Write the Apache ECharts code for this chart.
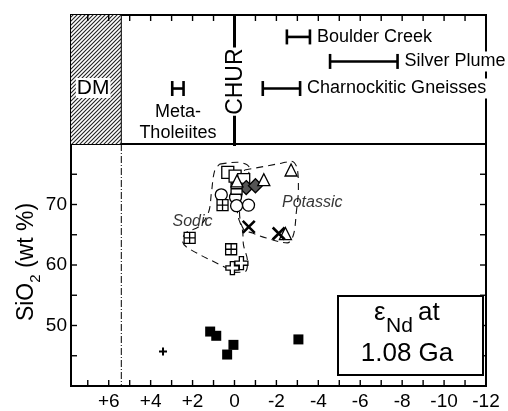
<!DOCTYPE html>
<html><head><meta charset="utf-8">
<script src="https://cdn.jsdelivr.net/npm/echarts@6/dist/echarts.min.js"></script>
<style>html,body{margin:0;padding:0;background:#fff}#c{width:508px;height:411px}</style>
</head><body><div id="c"></div>
<script>
// ---------------- data ----------------
const xTickLabels = [-12, -10, -8, -6, -4, -2, 0, 2, 4, 6];
const yTickLabels = [50, 60, 70];
const xTickMarks = [-12, -11, -10, -9, -8, -7, -6, -5, -4, -3, -2, -1, 0, 1, 2, 3, 4, 5, 6, 7];
const yTickMarks = [45, 50, 55, 60, 65, 70, 75];
const xMin = -12, xMax = 7.8;
const yMin = 40, yMax = 80;
const churEps = 0;          // CHUR reference
const dmEps = 5.4;          // depleted mantle limit

// top panel: eNd ranges
const rangeNames = ['Boulder Creek', 'Silver Plume', 'Charnockitic Gneisses', 'Meta-\nTholeiites'];
const rangeFrom  = [-2.5, -4.56, -1.35, 2.97];
const rangeTo    = [-3.6, -7.78, -3.13, 2.43];
const rangeRow   = [1.02, 2.16, 3.42, 3.42];
const rangeLabelBelow = [false, false, false, true];

// lower panel: samples [eNd, SiO2]
const filledSquares  = [[1.16, 49.0], [0.87, 48.3], [0.05, 46.8], [0.35, 45.2], [-3.05, 47.7]];
const smallPlus      = [[3.41, 45.7]];
const openSquares    = [[0.32, 75.3], [-0.03, 74.7], [-0.44, 74.1]];
const openTriangles  = [[-0.12, 73.9], [-1.4, 74.1], [-2.7, 75.7], [-2.43, 65.2]];
const hatchDiamonds  = [[-0.56, 72.8], [-1.0, 73.1]];
const lineSquares    = [[-0.1, 72.6]];
const openCircles    = [[0.63, 71.6], [-0.05, 71.2], [-0.1, 69.8], [-0.67, 69.9]];
const crossSquares   = [[0.57, 69.9], [2.14, 64.5], [0.16, 62.6]];
const crosses        = [[-0.68, 66.3], [-2.11, 65.2]];
const openPluses     = [[0.1, 59.5], [-0.33, 60.3]];

// field outlines
const sodicHull = [[0.71, 76.67], [-0.14, 76.99], [-0.71, 76.02], [-0.43, 72.28], [-0.14, 68.7], [-0.38, 65.77],
  [-0.43, 63.33], [-0.62, 60.57], [-0.52, 58.94], [-0.05, 58.78], [0.43, 59.59], [2.24, 62.85], [2.48, 63.98],
  [2.33, 65.28], [1.67, 66.42], [1.24, 68.7], [1.1, 71.95], [0.95, 75.53], [0.71, 76.67]];
const potassicHull = [[-0.48, 75.69], [-2.24, 76.83], [-2.71, 77.15], [-3.0, 75.85], [-3.05, 72.6], [-2.95, 68.7],
  [-2.81, 64.96], [-2.52, 63.66], [-1.52, 64.47], [-0.86, 65.28], [-0.43, 65.93], [-0.24, 68.7], [-0.29, 72.28],
  [-0.48, 75.69]];
const groupNames = ['Sodic', 'Potassic'];
const groupX = [2.0, -3.71];
const groupY = [67.2, 70.3];

// ---------------- chart ----------------
const FONT = 'Liberation Sans, Arial, Helvetica, sans-serif';
const chart = echarts.init(document.getElementById('c'), null, {renderer: 'canvas'});

function hatchCanvas() {
  const c = document.createElement('canvas');
  c.width = 4; c.height = 4;
  const g = c.getContext('2d');
  g.fillStyle = '#fff'; g.fillRect(0, 0, 4, 4);
  g.strokeStyle = '#222'; g.lineWidth = 1.1;
  g.beginPath();
  g.moveTo(0, 4); g.lineTo(4, 0);
  g.moveTo(-1, 1); g.lineTo(1, -1);
  g.moveTo(3, 5); g.lineTo(5, 3);
  g.stroke();
  return c;
}
const hatch = hatchCanvas();

const blk = '#000';
const sym = {
  crossSquare: 'path://M0,0L10,0L10,10L0,10Z M5,0L5,10 M0,5L10,5',
  lineSquare: 'path://M0,0L10,0L10,10L0,10Z M0,5L10,5',
  plusOutline: 'path://M3.4,0L6.6,0L6.6,3.4L10,3.4L10,6.6L6.6,6.6L6.6,10L3.4,10L3.4,6.6L0,6.6L0,3.4L3.4,3.4Z',
  cross: 'path://M0,0L10,10M10,0L0,10',
  plus: 'path://M5,0L5,10M0,5L10,5'
};
function sc(name, data, symbol, size, fill, bw) {
  return {
    type: 'scatter', name, xAxisIndex: 1, yAxisIndex: 1, data, symbol, symbolSize: size,
    itemStyle: {color: fill, borderColor: blk, borderWidth: bw, opacity: 1},
    silent: true, z: 5
  };
}
const axLine = {show: true, onZero: false, lineStyle: {color: blk, width: 2}};
const noTick = {show: false};

const rangeData = rangeNames.map((n, i) => [rangeFrom[i], rangeTo[i], rangeRow[i], i]);

// tick marks: one data item per tick, drawn from the axis scale
// dir: [dx, dy] unit direction pointing into the plot
function tickSeries(xi, yi, data, dir) {
  return {type: 'custom', xAxisIndex: xi, yAxisIndex: yi, data, silent: true, z: 8,
    renderItem: (params, api) => {
      const p = api.coord([api.value(0), api.value(1)]);
      return {type: 'line', shape: {x1: p[0], y1: p[1], x2: p[0] + dir[0] * 6, y2: p[1] + dir[1] * 6},
        style: {stroke: '#000', lineWidth: 1.4}};
    }};
}

const option = {
  animation: false,
  backgroundColor: '#fff',
  grid: [
    {left: 71, right: 22, top: 15, height: 129, show: true, borderColor: blk, borderWidth: 2, backgroundColor: 'transparent'},
    {left: 71, right: 22, top: 144, bottom: 24, show: true, borderColor: blk, borderWidth: 2, backgroundColor: 'transparent'}
  ],
  xAxis: [
    {gridIndex: 0, type: 'value', min: xMin, max: xMax, inverse: true, position: 'top', interval: 1,
      axisLine: axLine, axisTick: noTick,
      axisLabel: {show: false}, splitLine: {show: false}},
    {gridIndex: 1, type: 'value', min: xMin, max: xMax, inverse: true, position: 'bottom', interval: 1,
      axisLine: axLine, axisTick: noTick,
      axisLabel: {interval: 0, color: blk, fontSize: 19, fontFamily: FONT, margin: 6,
        formatter: v => xTickLabels.includes(v) ? (v > 0 ? '+' + v : String(v)) : ''},
      splitLine: {show: false}}
  ],
  yAxis: [
    {gridIndex: 0, type: 'value', min: 0, max: 6, inverse: true, show: false},
    {gridIndex: 1, type: 'value', min: yMin, max: yMax, interval: 5, position: 'left',
      axisLine: axLine, axisTick: noTick,
      axisLabel: {interval: 0, color: blk, fontSize: 19, fontFamily: FONT, margin: 4,
        formatter: v => yTickLabels.includes(v) ? String(v) : ''},
      splitLine: {show: false}},
    {gridIndex: 1, type: 'value', min: yMin, max: yMax, interval: 5, position: 'right',
      axisLine: axLine, axisTick: noTick,
      axisLabel: {show: false}, splitLine: {show: false}}
  ],
  series: [
    // DM hatched field (top panel)
    {type: 'custom', xAxisIndex: 0, yAxisIndex: 0, data: [[dmEps, 3]], silent: true, z: 1,
      renderItem: (params, api) => {
        const a = api.coord([xMax, 0]), b = api.coord([api.value(0), 6]);
        const mid = api.coord([(xMax + api.value(0)) / 2, 3.4]);
        return {type: 'group', children: [
          {type: 'rect', shape: {x: a[0], y: a[1], width: b[0] - a[0], height: b[1] - a[1]},
            style: {fill: {image: hatch, repeat: 'repeat'}, stroke: null}},
          {type: 'line', shape: {x1: b[0], y1: a[1], x2: b[0], y2: b[1]}, style: {stroke: blk, lineWidth: 1}},
          {type: 'text', x: mid[0] - 3, y: mid[1], style: {text: 'DM', fill: blk, fontSize: 21, fontFamily: FONT,
            align: 'center', verticalAlign: 'middle', backgroundColor: '#fff', padding: [0, 1, -1, 1]}}
        ]};
      }},
    // CHUR line (top panel)
    {type: 'custom', xAxisIndex: 0, yAxisIndex: 0, data: [[churEps, 3]], silent: true, z: 3,
      renderItem: (params, api) => {
        const a = api.coord([api.value(0), 0]), b = api.coord([api.value(0), 6]);
        const m = api.coord([api.value(0), 3.1]);
        return {type: 'group', children: [
          {type: 'line', shape: {x1: a[0], y1: a[1], x2: b[0], y2: b[1] + 2}, style: {stroke: blk, lineWidth: 3}},
          {type: 'text', x: m[0] + 1, y: m[1], rotation: Math.PI / 2,
            style: {text: 'CHUR', fill: blk, fontSize: 23, fontFamily: FONT, align: 'center', verticalAlign: 'middle',
              backgroundColor: '#fff', padding: [0, 1]}}
        ]};
      }},
    // eNd ranges (top panel)
    {type: 'custom', xAxisIndex: 0, yAxisIndex: 0, data: rangeData, silent: true, z: 4,
      renderItem: (params, api) => {
        const p1 = api.coord([api.value(0), api.value(2)]);
        const p2 = api.coord([api.value(1), api.value(2)]);
        const i = api.value(3);
        const h = 7.5;
        const xl = Math.min(p1[0], p2[0]), xr = Math.max(p1[0], p2[0]);
        const st = {stroke: blk, lineWidth: 2.6};
        const children = [
          {type: 'line', shape: {x1: xl, y1: p1[1], x2: xr, y2: p1[1]}, style: st},
          {type: 'line', shape: {x1: xl, y1: p1[1] - h, x2: xl, y2: p1[1] + h}, style: st},
          {type: 'line', shape: {x1: xr, y1: p1[1] - h, x2: xr, y2: p1[1] + h}, style: st}
        ];
        if (rangeLabelBelow[i]) {
          children.push({type: 'text', x: (xl + xr) / 2, y: p1[1] + 13,
            style: {text: rangeNames[i], fill: blk, fontSize: 18, lineHeight: 21, fontFamily: FONT, align: 'center', verticalAlign: 'top'}});
        } else {
          children.push({type: 'text', x: xr + 5, y: p1[1],
            style: {text: rangeNames[i], fill: blk, fontSize: 18, fontFamily: FONT, align: 'left', verticalAlign: 'middle',
              backgroundColor: '#fff', padding: [1, 2]}});
        }
        return {type: 'group', children};
      }},
    // tick marks
    tickSeries(0, 0, xTickMarks.map(v => [v, 0]), [0, 1]),
    tickSeries(1, 1, xTickMarks.map(v => [v, yMin]), [0, -1]),
    tickSeries(1, 1, yTickMarks.map(v => [xMax, v]), [1, 0]),
    tickSeries(1, 1, yTickMarks.map(v => [xMin, v]), [-1, 0]),
    // DM dash-dot line (lower panel)
    {type: 'custom', xAxisIndex: 1, yAxisIndex: 1, data: [[dmEps, 60]], silent: true, z: 1,
      renderItem: (params, api) => {
        const a = api.coord([api.value(0), yMax]), b = api.coord([api.value(0), yMin]);
        return {type: 'line', shape: {x1: a[0], y1: a[1], x2: b[0], y2: b[1]},
          style: {stroke: blk, lineWidth: 1, lineDash: [7, 2, 1, 2]}};
      }},
    // field outlines
    {type: 'line', xAxisIndex: 1, yAxisIndex: 1, data: sodicHull, showSymbol: false, smooth: 0.35, silent: true, z: 2,
      lineStyle: {color: '#111', width: 1.1, type: [7, 5]}},
    {type: 'line', xAxisIndex: 1, yAxisIndex: 1, data: potassicHull, showSymbol: false, smooth: 0.35, silent: true, z: 2,
      lineStyle: {color: '#111', width: 1.1, type: [7, 5]}},
    // field labels
    {type: 'scatter', xAxisIndex: 1, yAxisIndex: 1, symbolSize: 0, silent: true, z: 3,
      data: groupNames.map((n, i) => ({name: n, value: [groupX[i], groupY[i]]})),
      label: {show: true, position: 'inside', formatter: p => p.name, color: blk, fontSize: 16,
        fontStyle: 'italic', fontFamily: FONT}},
    // samples
    sc('filled squares', filledSquares, 'rect', 10, blk, 0),
    sc('small plus', smallPlus, sym.plus, 8, 'rgba(0,0,0,0)', 2),
    sc('open squares', openSquares, 'rect', 12, '#fff', 1.3),
    sc('hatched diamonds', hatchDiamonds, 'diamond', 14, '#555', 1.3),
    sc('open circles', openCircles, 'circle', 12, '#fff', 1.3),
    sc('cross squares', crossSquares, sym.crossSquare, 11, '#fff', 1.3),
    sc('line squares', lineSquares, sym.lineSquare, 11, '#fff', 1.3),
    sc('open triangles', openTriangles, 'triangle', 12, '#fff', 1.3),
    sc('crosses', crosses, sym.cross, 12, 'rgba(0,0,0,0)', 2.6),
    sc('open pluses', openPluses, sym.plusOutline, 13, '#fff', 1.3)
  ],
  graphic: [
    {type: 'text', x: 27, y: 262, rotation: Math.PI / 2, z: 10,
      style: {text: '{a|SiO}{b|2}{a| (wt %)}', align: 'center', verticalAlign: 'middle',
        rich: {a: {fontSize: 23, fontFamily: FONT, fill: blk, lineHeight: 32, verticalAlign: 'middle'},
               b: {fontSize: 15, fontFamily: FONT, fill: blk, lineHeight: 17, verticalAlign: 'bottom'}}}},
    {type: 'rect', shape: {x: 338, y: 296, width: 145, height: 79}, z: 10,
      style: {fill: '#fff', stroke: blk, lineWidth: 2}},
    {type: 'text', x: 374, y: 313, z: 11, style: {text: 'ε', fill: blk, fontSize: 26, fontFamily: FONT, align: 'left', verticalAlign: 'middle'}},
    {type: 'text', x: 386, y: 326, z: 11, style: {text: 'Nd', fill: blk, fontSize: 21, fontFamily: FONT, align: 'left', verticalAlign: 'middle'}},
    {type: 'text', x: 418, y: 313, z: 11, style: {text: 'at', fill: blk, fontSize: 26, fontFamily: FONT, align: 'left', verticalAlign: 'middle'}},
    {type: 'text', x: 407, y: 354, z: 11, style: {text: '1.08 Ga', fill: blk, fontSize: 26, fontFamily: FONT, align: 'center', verticalAlign: 'middle'}}
  ]
};
chart.setOption(option);
</script>
</body></html>
